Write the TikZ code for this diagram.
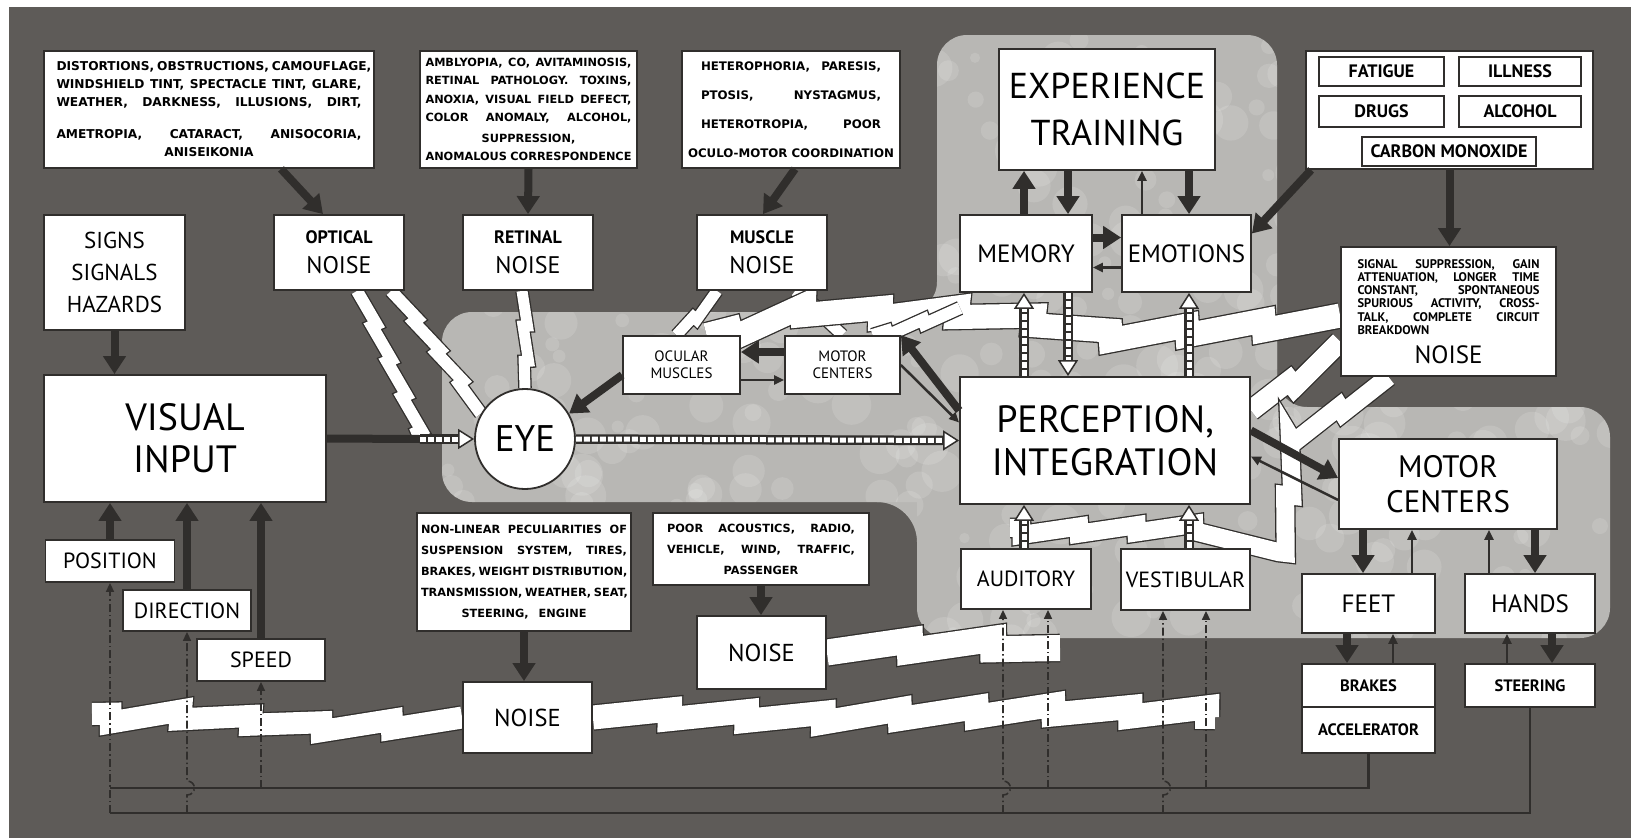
\documentclass[tikz,border=0pt]{standalone}
\usepackage{fontspec}
\setmainfont{PT Sans}
\newfontfamily\notefont{DejaVu Sans}
\usetikzlibrary{arrows.meta,decorations.pathmorphing}
\definecolor{ink}{RGB}{48,46,44}
\definecolor{slate}{RGB}{94,91,88}
\definecolor{mist}{RGB}{184,183,180}
\pgfdeclarelayer{back}
\pgfdeclarelayer{zaps}
\pgfsetlayers{back,zaps,main}
\tikzset{
  box/.style={draw=ink, line width=1.8pt, fill=white, align=center, inner sep=2pt},
  chip/.style={draw=ink, line width=1.8pt, fill=white, minimum height=29pt, inner sep=1pt,
    font=\bfseries\fontsize{18}{20}\selectfont},
  noisebox/.style={box, minimum width=130pt, minimum height=75pt, font=\fontsize{24}{30}\selectfont},
  fat/.style={draw=ink, line width=8pt, -{Triangle[length=18pt,width=22pt]}},
  slim/.style={draw=ink, line width=2.5pt, -{Triangle[length=10pt,width=9pt]}},
  wire/.style={draw=ink, line width=2.5pt},
  probe/.style={draw=ink, line width=1.6pt, dash pattern=on 8pt off 3pt on 1.5pt off 3pt,
    -{Triangle[length=9pt,width=8pt]}},
  sig/.style={draw=white, line width=5pt, dash pattern=on 6pt off 2pt,
    preaction={draw=ink, line width=9.5pt, solid, -, shorten >=12pt},
    -{Triangle[length=16pt,width=20pt,color=ink,fill=white,line width=1.5pt]}},
  zap/.style={draw=ink, line width=1.3pt, double=white, double distance=#1,
    line join=miter, miter limit=6, decorate,
    decoration={saw, segment length=3.2*#1, amplitude=0.4*#1}},
}
% one justified line of a given width
\newcommand\rowof[2]{\makebox[#1][s]{#2}}
\begin{document}
\begin{tikzpicture}[x=1pt,y=-1pt]
\useasboundingbox (0,0) rectangle (1631,838);

% ground and panels
\begin{pgfonlayer}{back}
  \fill[white] (0,0) rectangle (1631,838);
  \fill[slate] (9,7) rectangle (1631,838);
  \fill[mist, rounded corners=30pt] (937,35) rectangle (1277,520);
  \fill[mist, rounded corners=30pt] (442,312) rectangle (1277,502);
  \fill[mist, rounded corners=30pt] (917,407) rectangle (1610,638);
  \fill[mist] (937,312) -- (907,312) .. controls (923.6,312) and (937,298.6) .. (937,282) -- cycle;
  \fill[mist] (917,502) -- (877,502) .. controls (899.1,502) and (917,519.9) .. (917,542) -- cycle;
  \fill[mist] (1277,407) -- (1307,407) .. controls (1290.4,407) and (1277,393.6) .. (1277,377) -- cycle;
  \begin{scope}
    \clip[rounded corners=30pt] (937,35) rectangle (1277,520) (442,312) rectangle (1277,502) (917,407) rectangle (1610,638);
    \pgfmathsetseed{7}
    \foreach \i in {1,...,420}
      \fill[white, opacity=0.13] ({440+rnd*1172},{35+rnd*605}) circle[radius={5+rnd*16}];
  \end{scope}
\end{pgfonlayer}

% top row
\node[box, minimum width=330pt, minimum height=117pt, font=\notefont\bfseries\fontsize{12.2}{18}\selectfont] (distort) at (209,109.5)
  {\rowof{305pt}{DISTORTIONS, OBSTRUCTIONS, CAMOUFLAGE,}\\\rowof{305pt}{WINDSHIELD TINT, SPECTACLE TINT, GLARE,}\\
   \rowof{305pt}{WEATHER, DARKNESS, ILLUSIONS, DIRT,}\\[14pt]\rowof{305pt}{AMETROPIA, CATARACT, ANISOCORIA,}\\ANISEIKONIA};
\node[box, minimum width=217pt, minimum height=117pt, font=\notefont\bfseries\fontsize{11.3}{18.5}\selectfont] (ambly) at (528.5,109.5)
  {\rowof{206pt}{AMBLYOPIA, CO, AVITAMINOSIS,}\\\rowof{206pt}{RETINAL PATHOLOGY. TOXINS,}\\\rowof{206pt}{ANOXIA, VISUAL FIELD DEFECT,}\\
   \rowof{206pt}{COLOR ANOMALY, ALCOHOL,}\\[2pt]SUPPRESSION,\\\rowof{206pt}{ANOMALOUS CORRESPONDENCE}};
\node[box, minimum width=218pt, minimum height=117pt, font=\notefont\bfseries\fontsize{11.8}{29}\selectfont] (hetero) at (791,109.5)
  {\rowof{180pt}{HETEROPHORIA, PARESIS,}\\\rowof{180pt}{PTOSIS, NYSTAGMUS,}\\\rowof{180pt}{HETEROTROPIA, POOR}\\
   \rowof{206pt}{OCULO-MOTOR COORDINATION}};
\node[box, minimum width=216pt, minimum height=121pt, font=\fontsize{36}{47}\selectfont] (exper) at (1107,109.5) {EXPERIENCE\\TRAINING};
\node[box, minimum width=287pt, minimum height=118pt] (fatout) at (1449.5,110) {};
\node[chip, minimum width=125pt] (fatigue) at (1381.5,71.5) {FATIGUE};
\node[chip, minimum width=122pt] (illness) at (1520,71.5) {ILLNESS};
\node[chip, minimum width=125pt, minimum height=31pt] (drugs) at (1381.5,111.5) {DRUGS};
\node[chip, minimum width=122pt, minimum height=31pt] (alcohol) at (1520,111.5) {ALCOHOL};
\node[chip, minimum width=174pt] (carbon) at (1449,151.5) {CARBON MONOXIDE};

% second row
\node[box, minimum width=141pt, minimum height=115pt, font=\fontsize{23}{32}\selectfont] (signs) at (114.5,272.5) {SIGNS\\SIGNALS\\HAZARDS};
\node[noisebox] (optical) at (339,252.5) {{\bfseries\fontsize{18}{30}\selectfont OPTICAL}\\NOISE};
\node[noisebox] (retinal) at (528,252.5) {{\bfseries\fontsize{18}{30}\selectfont RETINAL}\\NOISE};
\node[noisebox] (muscle) at (762,252.5) {{\bfseries\fontsize{18}{30}\selectfont MUSCLE}\\NOISE};
\node[box, minimum width=132pt, minimum height=77pt, font=\fontsize{25}{27}\selectfont] (memory) at (1026,253.5) {MEMORY};
\node[box, minimum width=129pt, minimum height=77pt, font=\fontsize{25}{27}\selectfont] (emotions) at (1186.5,253.5) {EMOTIONS};
\node[box, minimum width=215pt, minimum height=129pt, font=\bfseries\fontsize{12.5}{13.2}\selectfont] (noiseR) at (1448.5,311.5)
  {\rowof{182pt}{SIGNAL SUPPRESSION, GAIN}\\\rowof{182pt}{ATTENUATION, LONGER TIME}\\\rowof{182pt}{CONSTANT, SPONTANEOUS}\\
   \rowof{182pt}{SPURIOUS ACTIVITY, CROSS-}\\\rowof{182pt}{TALK, COMPLETE CIRCUIT}\\\makebox[182pt][l]{BREAKDOWN}\\[10pt]
   {\mdseries\fontsize{25}{27}\selectfont NOISE}};

% middle row
\node[box, minimum width=282pt, minimum height=127pt, font=\fontsize{38}{42}\selectfont] (visual) at (185,438.5) {VISUAL\\INPUT};
\node[box, circle, minimum size=100pt, inner sep=0pt, font=\fontsize{37}{40}\selectfont] (eye) at (525,439) {EYE};
\node[box, minimum width=117pt, minimum height=58pt, font=\fontsize{15}{17}\selectfont] (ocular) at (681.5,365) {OCULAR\\MUSCLES};
\node[box, minimum width=115pt, minimum height=58pt, font=\fontsize{15}{17}\selectfont] (motorS) at (842.5,365) {MOTOR\\CENTERS};
\node[box, minimum width=290pt, minimum height=127pt, font=\fontsize{38}{43}\selectfont] (percep) at (1105,440.5) {PERCEPTION,\\INTEGRATION};
\node[box, minimum width=218pt, minimum height=90pt, font=\fontsize{31}{35}\selectfont] (motorB) at (1448,484) {MOTOR\\CENTERS};

% lower rows
\node[box, minimum width=129pt, minimum height=42pt, font=\fontsize{22}{24}\selectfont] (position) at (110,561) {POSITION};
\node[box, minimum width=128pt, minimum height=41pt, font=\fontsize{22}{24}\selectfont] (direction) at (187,610.5) {DIRECTION};
\node[box, minimum width=128pt, minimum height=42pt, font=\fontsize{22}{24}\selectfont] (speed) at (261,660) {SPEED};
\node[box, minimum width=214pt, minimum height=118pt, font=\notefont\bfseries\fontsize{11.3}{21}\selectfont] (nonlin) at (524,572)
  {\rowof{206pt}{NON-LINEAR PECULIARITIES OF}\\\rowof{206pt}{SUSPENSION SYSTEM, TIRES,}\\\rowof{206pt}{BRAKES, WEIGHT DISTRIBUTION,}\\
   \rowof{206pt}{TRANSMISSION, WEATHER, SEAT,}\\\rowof{125pt}{STEERING, ENGINE}};
\node[box, minimum width=216pt, minimum height=72pt, font=\notefont\bfseries\fontsize{11.3}{21}\selectfont] (acoust) at (761,549)
  {\rowof{188pt}{POOR ACOUSTICS, RADIO,}\\\rowof{188pt}{VEHICLE, WIND, TRAFFIC,}\\PASSENGER};
\node[box, minimum width=129pt, minimum height=73pt, font=\fontsize{24.5}{26}\selectfont] (noiseM) at (761.5,652.5) {NOISE};
\node[box, minimum width=129pt, minimum height=71pt, font=\fontsize{24.5}{26}\selectfont] (noiseB) at (527.5,717.5) {NOISE};
\node[box, minimum width=130pt, minimum height=60pt, font=\fontsize{22}{24}\selectfont] (auditory) at (1026,579) {AUDITORY};
\node[box, minimum width=129pt, minimum height=61pt, font=\fontsize{22}{24}\selectfont] (vestib) at (1185.5,579.5) {VESTIBULAR};
\node[box, minimum width=133pt, minimum height=59pt, font=\fontsize{25}{27}\selectfont] (feet) at (1368.5,603.5) {FEET};
\node[box, minimum width=130pt, minimum height=59pt, font=\fontsize{25}{27}\selectfont] (hands) at (1530,603.5) {HANDS};
\node[box, minimum width=133pt, minimum height=43pt, font=\bfseries\fontsize{16.5}{18}\selectfont] (brakes) at (1368.5,685.5) {BRAKES};
\node[box, minimum width=133pt, minimum height=46pt, font=\bfseries\fontsize{16.5}{18}\selectfont] (accel) at (1368.5,730) {ACCELERATOR};
\node[box, minimum width=130pt, minimum height=43pt, font=\bfseries\fontsize{16.5}{18}\selectfont] (steering) at (1530,685.5) {STEERING};

% free ends and columns
\coordinate (zapA) at (420,439);
\coordinate (zapB) at (960,308);
\coordinate (zapC) at (1010,528);
\coordinate (zapD) at (92,714);
\coordinate (zapE) at (1215,717);
\coordinate (zapF) at (1060,648);
\coordinate (lineA) at (110,788);
\coordinate (lineB) at (110,813);
\coordinate (hopL) at (0,795);
\coordinate (hopH) at (0,781);
\coordinate (m1) at (1024,0);
\coordinate (m2) at (1068,0);
\coordinate (e1) at (1142,0);
\coordinate (e2) at (1189,0);
\coordinate (f1) at (1363,0);
\coordinate (f2) at (1412,0);
\coordinate (h1) at (1489,0);
\coordinate (h2) at (1535,0);
\coordinate (f3) at (1347,0);
\coordinate (f4) at (1393,0);
\coordinate (h3) at (1507,0);
\coordinate (h4) at (1552,0);
\coordinate (a1) at (1003,0);
\coordinate (a2) at (1048,0);
\coordinate (v1) at (1163,0);
\coordinate (v2) at (1206,0);

% noise bolts
\begin{pgfonlayer}{zaps}
  \draw[zap=12pt] ([xshift=18pt]optical.south) -- (zapA);
  \draw[zap=12pt] ([xshift=52pt]optical.south) -- (eye.150);
  \draw[zap=11pt] ([xshift=-6pt]retinal.south) -- (eye.north);
  \draw[zap=11pt] ([xshift=-45pt]muscle.south) -- ([xshift=-5pt]ocular.north);
  \draw[zap=11pt] ([xshift=33pt]muscle.south) -- (motorS.north);
  \draw[zap=24pt] ([yshift=-4pt]noiseR.west) -- (1150,328) -- (1000,312) -- (820,306) -- ([xshift=25pt]ocular.north);
  \draw[zap=12pt] (zapB) -- ([xshift=30pt]motorS.north);
  \draw[zap=20pt] ([yshift=-30pt]noiseR.west) -- ([yshift=30pt]percep.east);
  \draw[zap=18pt] ([xshift=-60pt]noiseR.south) -- (1292,435) -- (1282,522) -- (zapC);
  \draw[zap=22pt] (noiseB.west) -- (330,722) -- (200,712) -- (zapD);
  \draw[zap=24pt] (noiseB.east) -- (800,722) -- (1000,716) -- (zapE);
  \draw[zap=26pt] (noiseM.east) -- (zapF);
\end{pgfonlayer}

% causes into noise
\draw[fat] ([xshift=72pt]distort.south) -- ([xshift=-16pt]optical.north);
\draw[fat] (ambly.south) -- (retinal.north);
\draw[fat] ([xshift=4pt]hetero.south) -- ([xshift=1pt]muscle.north);
\draw[fat] ([xshift=6pt]fatout.south west) -- ([yshift=20pt]emotions.east);
\draw[fat] (fatout.south) -- (fatout.south |- noiseR.north);
\draw[fat] (nonlin.south) -- (nonlin.south |- noiseB.north);
\draw[fat] (acoust.south) -- (acoust.south |- noiseM.north);

% visual path
\draw[fat] (signs.south) -- (signs.south |- visual.north);
\draw[fat] (position.north) -- (position.north |- visual.south);
\draw[fat] (direction.north) -- (direction.north |- visual.south);
\draw[fat] (speed.north) -- (speed.north |- visual.south);
\draw[ink, line width=8pt] (visual.east) -- (zapA);
\draw[sig] (zapA) -- (eye.west);
\draw[sig] (eye.east) -- (percep.west);
\draw[fat] ([yshift=-10pt]ocular.west) -- (eye.30);
\draw[fat] ([yshift=13pt]motorS.west) -- ([yshift=13pt]ocular.east);
\draw[slim] ([yshift=-15pt]ocular.east) -- ([yshift=-15pt]motorS.west);
\draw[fat] ([yshift=30pt]percep.west) -- (motorS.north east);
\draw[slim] (motorS.east) -- ([yshift=18pt]percep.west);

% central loops
\draw[fat] (m1 |- memory.north) -- (m1 |- exper.south);
\draw[fat] (m2 |- exper.south) -- (m2 |- memory.north);
\draw[slim] (e1 |- emotions.north) -- (e1 |- exper.south);
\draw[fat] (e2 |- exper.south) -- (e2 |- emotions.north);
\draw[fat] ([yshift=16pt]memory.east) -- ([yshift=16pt]emotions.west);
\draw[slim] ([yshift=-14pt]emotions.west) -- ([yshift=-14pt]memory.east);
\draw[sig] (m1 |- percep.north) -- (m1 |- memory.south);
\draw[sig] (m2 |- memory.south) -- (m2 |- percep.north);
\draw[sig] (e2 |- percep.north) -- (e2 |- emotions.south);
\draw[sig] (m1 |- auditory.north) -- (m1 |- percep.south);
\draw[sig] (e2 |- vestib.north) -- (e2 |- percep.south);

% motor output
\draw[fat] ([yshift=10pt]percep.east) -- ([yshift=6pt]motorB.west);
\draw[slim] ([yshift=-16pt]motorB.west) -- ([yshift=-16pt]percep.east);
\draw[fat] (f1 |- motorB.south) -- (f1 |- feet.north);
\draw[slim] (f2 |- feet.north) -- (f2 |- motorB.south);
\draw[slim] (h1 |- hands.north) -- (h1 |- motorB.south);
\draw[fat] (h2 |- motorB.south) -- (h2 |- hands.north);
\draw[fat] (f3 |- feet.south) -- (f3 |- brakes.north);
\draw[slim] (f4 |- brakes.north) -- (f4 |- feet.south);
\draw[slim] (h3 |- steering.north) -- (h3 |- hands.south);
\draw[fat] (h4 |- hands.south) -- (h4 |- steering.north);

% feedback wiring
\draw[wire] (accel.south) |- (lineA);
\draw[wire] (steering.south) |- (lineB);
\draw[probe] (lineB) -- (position.south);
\draw[probe] (direction.south |- lineB) -- (direction.south |- hopL) to[out=0,in=0,looseness=1.8] (direction.south |- hopH) -- (direction.south);
\draw[probe] (speed.south |- lineA) -- (speed.south);
\draw[probe] (a1 |- lineB) -- (a1 |- hopL) to[out=0,in=0,looseness=1.8] (a1 |- hopH) -- (a1 |- auditory.south);
\draw[probe] (a2 |- lineA) -- (a2 |- auditory.south);
\draw[probe] (v1 |- lineB) -- (v1 |- hopL) to[out=0,in=0,looseness=1.8] (v1 |- hopH) -- (v1 |- vestib.south);
\draw[probe] (v2 |- lineA) -- (v2 |- vestib.south);
\end{tikzpicture}
\end{document}
